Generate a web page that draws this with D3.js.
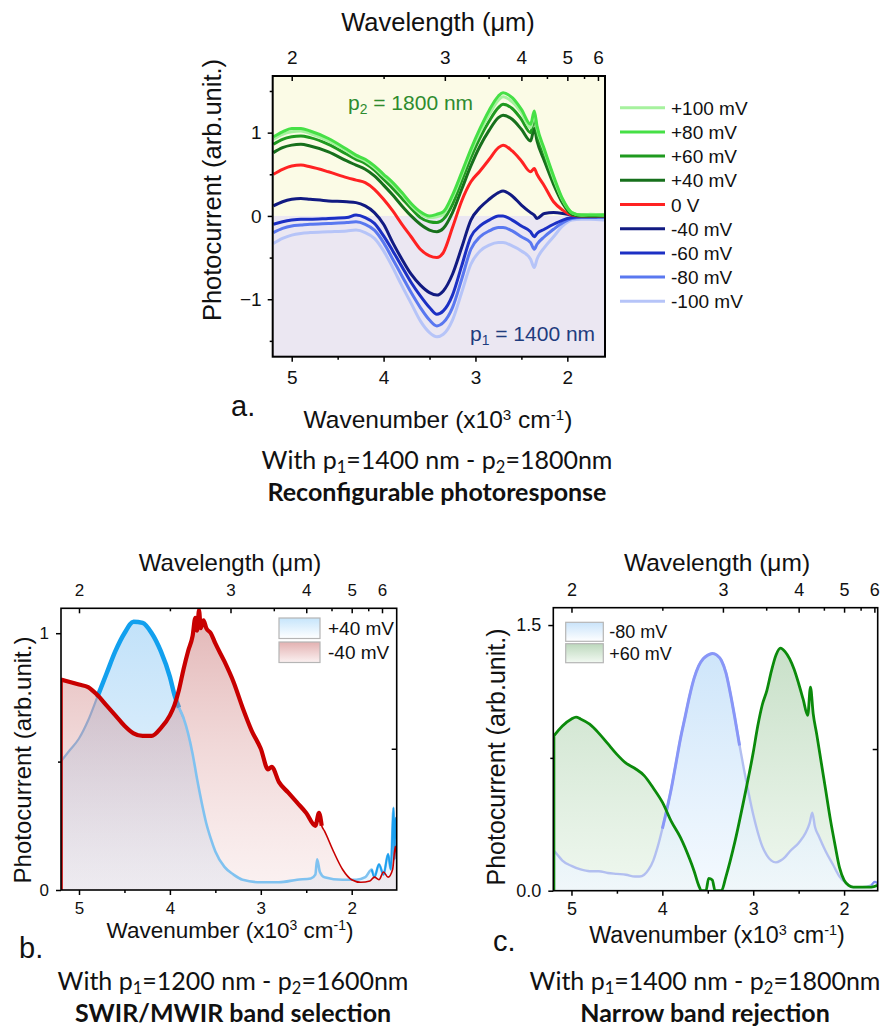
<!DOCTYPE html>
<html><head><meta charset="utf-8">
<script src="https://cdn.jsdelivr.net/npm/d3@7"></script>
<style>
body{margin:0;background:#fff}
text{font-family:"Liberation Sans",Arial,sans-serif;fill:#111}
.cap{font-family:Lato,"Open Sans",sans-serif}
</style>
</head><body>
<script>
// ---------------- DATA ----------------
// Panel a : wavenumber grid (x10^3 cm^-1) and photocurrent for each bias
const nuA = [5.2,5.1,5.0,4.9,4.8,4.6,4.4,4.3,4.2,4.1,4.0,3.9,3.8,3.7,3.6,3.5,3.42,3.35,3.25,3.15,3.05,2.95,2.85,2.75,2.7,2.6,2.5,2.4,2.36,2.33,2.25,2.15,2.05,1.95,1.85,1.75,1.6];
const aP100 = [0.92,0.98,1.01,1.02,0.99,0.90,0.78,0.71,0.66,0.58,0.48,0.38,0.26,0.13,0.03,-0.02,-0.01,0.02,0.22,0.49,0.77,1.01,1.22,1.39,1.43,1.37,1.24,1.06,1.22,1.05,0.78,0.46,0.19,0.04,0.01,0.02,0.01];
const aP80  = [0.95,1.01,1.05,1.05,1.02,0.93,0.80,0.73,0.68,0.60,0.50,0.40,0.28,0.15,0.05,0.0,0.02,0.05,0.25,0.52,0.80,1.05,1.27,1.44,1.48,1.42,1.28,1.10,1.26,1.08,0.80,0.48,0.20,0.04,0.01,0.01,0.01];
const aP60  = [0.86,0.92,0.95,0.96,0.94,0.86,0.74,0.68,0.63,0.55,0.44,0.33,0.21,0.09,-0.02,-0.07,-0.08,-0.04,0.14,0.42,0.70,0.94,1.14,1.30,1.34,1.29,1.16,1.00,1.18,1.00,0.74,0.44,0.18,0.03,0.01,0.01,0.01];
const aP40  = [0.76,0.82,0.85,0.86,0.84,0.77,0.66,0.61,0.56,0.48,0.37,0.25,0.12,0.0,-0.10,-0.17,-0.19,-0.15,0.04,0.32,0.60,0.84,1.03,1.18,1.21,1.16,1.04,0.90,1.05,0.90,0.66,0.38,0.15,0.02,0.0,0.0,0.0];
const a0    = [0.50,0.56,0.60,0.61,0.59,0.53,0.46,0.43,0.40,0.32,0.20,0.06,-0.10,-0.25,-0.40,-0.48,-0.50,-0.44,-0.14,0.18,0.41,0.54,0.68,0.82,0.85,0.78,0.66,0.53,0.57,0.50,0.36,0.17,0.07,0.01,0.0,0.0,0.0];
const aM40  = [0.12,0.17,0.20,0.21,0.20,0.18,0.17,0.16,0.12,0.04,-0.10,-0.32,-0.52,-0.70,-0.83,-0.92,-0.95,-0.90,-0.70,-0.38,-0.05,0.10,0.20,0.28,0.30,0.24,0.13,0.04,0.01,-0.03,0.03,0.04,0.03,0.01,0.0,0.0,0.0];
const aM60  = [-0.10,-0.07,-0.05,-0.04,-0.04,-0.03,-0.02,0.01,-0.02,-0.09,-0.24,-0.42,-0.61,-0.80,-0.96,-1.10,-1.18,-1.14,-0.95,-0.60,-0.25,-0.12,-0.05,0.0,0.0,-0.05,-0.12,-0.19,-0.25,-0.21,-0.16,-0.10,-0.05,-0.02,-0.01,-0.01,0.0];
const aM80  = [-0.20,-0.15,-0.12,-0.11,-0.10,-0.09,-0.08,-0.07,-0.10,-0.17,-0.32,-0.52,-0.72,-0.92,-1.10,-1.25,-1.32,-1.28,-1.10,-0.76,-0.40,-0.25,-0.18,-0.14,-0.14,-0.18,-0.25,-0.32,-0.40,-0.34,-0.25,-0.16,-0.08,-0.03,-0.02,-0.02,-0.02];
const aM100 = [-0.33,-0.27,-0.23,-0.21,-0.20,-0.19,-0.18,-0.17,-0.20,-0.27,-0.42,-0.62,-0.84,-1.05,-1.26,-1.40,-1.45,-1.42,-1.25,-0.92,-0.58,-0.42,-0.35,-0.32,-0.32,-0.36,-0.42,-0.52,-0.62,-0.52,-0.38,-0.25,-0.12,-0.05,-0.04,-0.04,-0.05];
const aLabels = ["+100 mV","+80 mV","+60 mV","+40 mV","0 V","-40 mV","-60 mV","-80 mV","-100 mV"];
const aSeries = [aP100,aP80,aP60,aP40,a0,aM40,aM60,aM80,aM100];
const aColors = ["#a6f29e","#46e046","#1f9a1f","#17701c","#ff2222","#111a82","#1c30c4","#5a78f0","#b6c4f8"];

// Panel b
const nuBp = [5.2,5.1,5.0,4.9,4.8,4.7,4.6,4.5,4.4,4.3,4.2,4.1,4.0,3.95,3.9,3.85,3.8,3.75,3.7,3.65,3.6,3.55,3.5,3.4,3.3,3.2,3.0,2.8,2.6,2.45,2.4,2.38,2.35,2.3,2.1,1.95,1.85,1.78,1.75,1.7,1.65,1.6,1.57,1.54,1.53,1.52,1.505];
const bP40 = [0.50,0.545,0.59,0.66,0.75,0.84,0.93,1.0,1.045,1.04,1.0,0.93,0.83,0.76,0.71,0.67,0.61,0.53,0.43,0.34,0.26,0.2,0.15,0.09,0.06,0.04,0.03,0.03,0.04,0.045,0.06,0.12,0.07,0.05,0.04,0.04,0.05,0.08,0.05,0.1,0.06,0.14,0.08,0.32,0.12,0.28,0.2];
const nuBm = [5.2,5.0,4.9,4.8,4.7,4.6,4.5,4.4,4.3,4.2,4.1,4.0,3.95,3.9,3.85,3.8,3.75,3.72,3.7,3.68,3.66,3.63,3.6,3.55,3.5,3.4,3.3,3.2,3.1,3.0,2.92,2.88,2.8,2.7,2.6,2.5,2.4,2.36,2.33,2.3,2.2,2.1,2.0,1.9,1.8,1.75,1.7,1.65,1.6,1.55,1.52,1.505];
const bM40 = [0.82,0.80,0.79,0.76,0.72,0.68,0.64,0.61,0.60,0.60,0.63,0.68,0.72,0.78,0.86,0.93,0.99,1.06,1.01,1.09,1.02,1.05,1.02,1.0,0.96,0.89,0.81,0.71,0.62,0.55,0.47,0.48,0.42,0.38,0.34,0.30,0.25,0.30,0.25,0.23,0.15,0.08,0.04,0.03,0.035,0.05,0.04,0.07,0.05,0.08,0.17,0.12];
const bLabels = ["+40 mV","-40 mV"];

// Panel c
const nuCg = [5.2,5.1,5.0,4.95,4.9,4.8,4.7,4.6,4.5,4.4,4.3,4.2,4.1,4.0,3.9,3.8,3.7,3.65,3.6,3.57,3.52,3.49,3.45,3.42,3.35,3.3,3.2,3.1,3.0,2.95,2.9,2.85,2.8,2.75,2.7,2.65,2.6,2.55,2.5,2.45,2.4,2.37,2.34,2.3,2.25,2.2,2.15,2.1,2.05,2.0,1.95,1.9,1.8,1.7,1.63];
const cP60 = [0.87,0.93,0.97,0.98,0.97,0.94,0.89,0.83,0.77,0.72,0.69,0.65,0.58,0.50,0.39,0.30,0.18,0.11,0.03,0.0,0.0,0.07,0.06,0.0,0.0,0.08,0.28,0.52,0.78,0.93,1.05,1.13,1.24,1.33,1.37,1.35,1.31,1.25,1.17,1.08,0.99,1.15,1.0,0.88,0.72,0.56,0.40,0.26,0.13,0.06,0.03,0.02,0.02,0.02,0.03];
const nuCb = [5.2,5.15,5.1,5.0,4.9,4.8,4.7,4.6,4.5,4.4,4.3,4.25,4.2,4.15,4.1,4.05,4.0,3.95,3.9,3.85,3.8,3.75,3.7,3.65,3.6,3.55,3.5,3.45,3.4,3.35,3.3,3.25,3.2,3.15,3.1,3.05,3.0,2.95,2.9,2.85,2.8,2.75,2.7,2.65,2.6,2.5,2.42,2.38,2.35,2.32,2.28,2.2,2.12,2.05,1.97,1.9,1.8,1.7,1.66,1.63];
const cM80 = [0.23,0.20,0.17,0.14,0.12,0.11,0.11,0.10,0.095,0.09,0.08,0.08,0.09,0.12,0.17,0.25,0.35,0.46,0.58,0.72,0.86,0.98,1.10,1.20,1.27,1.31,1.33,1.34,1.33,1.30,1.23,1.11,0.97,0.82,0.68,0.55,0.43,0.33,0.25,0.20,0.17,0.16,0.17,0.19,0.22,0.27,0.33,0.38,0.44,0.36,0.31,0.22,0.145,0.08,0.04,0.02,0.02,0.03,0.05,0.04];
const cLabels = ["-80 mV","+60 mV"];

// Ticks
const nuMajor = [5,4,3,2], nuMinor = [4.5,3.5,2.5];
const wlMajor = [2,3,4,5,6], wlMinor = [2.5,3.5,4.5,5.5];
const yMajA = [-1,0,1], yMinA = [-1.5,-0.5,0.5,1.5];
const yMajB = [0,1], yMinB = [0.5];
const yMajC = [0,1.5], yMinC = [0.75];

// ---------------- DRAW ----------------
const svg = d3.select("body").append("svg").attr("width",882).attr("height",1028);
const defs = svg.append("defs");
function zip(nu, v){ return nu.map((n,i)=>({n, v:v[i]})); }
function vgrad(id, stops, y1, y2){
  const g = defs.append("linearGradient").attr("id",id).attr("x1",0).attr("x2",0);
  if (y1!==undefined) g.attr("gradientUnits","userSpaceOnUse").attr("y1",y1).attr("y2",y2);
  else g.attr("y1",0).attr("y2",1);
  stops.forEach(s=>g.append("stop").attr("offset",s[0]).attr("stop-color",s[1]).attr("stop-opacity",s[2]));
}
function rich(t, parts){
  parts.forEach(p=>{
    const s = t.append("tspan").text(p[0]);
    if (p[1]==="sub") s.attr("baseline-shift","-4px").attr("font-size","66%");
    if (p[1]==="sup") s.attr("baseline-shift","super").attr("font-size","62%");
  });
  return t;
}

function panel(o){
  const x = d3.scaleLinear().domain(o.xd).range([o.l,o.r]);
  const y = d3.scaleLinear().domain(o.yd).range([o.b,o.t]);
  const g = svg.append("g");
  const cid = "clip"+o.id;
  defs.append("clipPath").attr("id",cid).append("rect").attr("x",o.l).attr("y",o.t).attr("width",o.r-o.l).attr("height",o.b-o.t);
  const plot = g.append("g").attr("clip-path",`url(#${cid})`);
  return {x,y,g,plot};
}
function axes(P, o){
  const {x,y,g} = P;
  const style = (sel, fs)=>{ sel.select(".domain").remove(); sel.selectAll(".tick line").attr("stroke","#000").attr("stroke-width",1.5); sel.selectAll("text").attr("font-size",fs).attr("fill","#111").style("font-family","'Liberation Sans',Arial,sans-serif"); };
  g.append("g").attr("transform",`translate(0,${o.b})`).call(d3.axisBottom(x).tickValues(nuMajor).tickFormat(d3.format("d")).tickSize(5).tickPadding(o.bpad)).call(s=>style(s,o.fs));
  g.append("g").attr("transform",`translate(0,${o.b})`).call(d3.axisBottom(x).tickValues(nuMinor).tickFormat("").tickSize(3)).call(s=>style(s,o.fs));
  g.append("g").attr("transform",`translate(0,${o.t})`).call(d3.axisTop(x).tickValues(wlMajor.map(l=>10/l)).tickFormat(d=>Math.round(10/d)).tickSize(-5).tickPadding(o.tpad)).call(s=>style(s,o.fs));
  g.append("g").attr("transform",`translate(0,${o.t})`).call(d3.axisTop(x).tickValues(wlMinor.map(l=>10/l)).tickFormat("").tickSize(-3)).call(s=>style(s,o.fs));
  g.append("g").attr("transform",`translate(${o.l},0)`).call(d3.axisLeft(y).tickValues(o.yMaj).tickFormat(o.yfmt).tickSize(5).tickPadding(o.lpad)).call(s=>style(s,o.fs));
  g.append("g").attr("transform",`translate(${o.l},0)`).call(d3.axisLeft(y).tickValues(o.yMin).tickFormat("").tickSize(3)).call(s=>style(s,o.fs));
  if (o.rTick) g.append("g").attr("transform",`translate(${o.r},0)`).call(d3.axisRight(y).tickValues(o.rTick).tickFormat("").tickSize(-5)).call(s=>style(s,o.fs));
  g.append("rect").attr("x",o.l).attr("y",o.t).attr("width",o.r-o.l).attr("height",o.b-o.t).attr("fill","none").attr("stroke","#000").attr("stroke-width",o.fw||1.6);
  rich(g.append("text").attr("x",o.cx).attr("y",o.wlY).attr("text-anchor","middle").attr("font-size",o.titleFs),[["Wavelength (μm)"]]);
  rich(g.append("text").attr("x",o.cx).attr("y",o.wnY).attr("text-anchor","middle").attr("font-size",o.wnFs),[["Wavenumber (x10"],["3","sup"],[" cm"],["-1","sup"],[")"]]);
  g.append("text").attr("transform",`translate(${o.ylX},${o.ylY}) rotate(-90)`).attr("text-anchor","middle").attr("font-size",o.ylFs).text("Photocurrent (arb.unit.)");
  g.append("text").attr("x",o.lblX).attr("y",o.lblY).attr("font-size",29).text(o.lbl);
  rich(g.append("text").attr("class","cap").attr("x",o.capX).attr("y",o.capY).attr("text-anchor","middle").attr("font-size",o.capFs),
    [["With p"],["1","sub"],["="+o.p1+" nm - p"],["2","sub"],["="+o.p2+"nm"]]);
  g.append("text").attr("class","cap").attr("x",o.capX).attr("y",o.capY+31.5).attr("text-anchor","middle").attr("font-size",o.capFs).attr("font-weight","bold").text(o.cap2);
}

// ---------- Panel a ----------
const oA = {id:"a", l:272.7, r:605, t:76, b:356.7, xd:[5.207,1.59], yd:[-1.69,1.68], fs:19, bpad:9, tpad:12, lpad:6,
  yMaj:yMajA, yMin:yMinA, yfmt:d3.format("d"), fw:2,
  cx:438, wlY:31, wnY:428, titleFs:25.5, wnFs:24.5, ylX:221, ylY:190, ylFs:25.5,
  lbl:"a.", lblX:231, lblY:416, capX:437, capY:469, capFs:25, p1:"1400", p2:"1800", cap2:"Reconfigurable photoresponse"};
const PA = panel(oA);
PA.plot.append("rect").attr("x",oA.l).attr("y",oA.t).attr("width",oA.r-oA.l).attr("height",PA.y(0)-oA.t).attr("fill","#fbfbe6");
PA.plot.append("rect").attr("x",oA.l).attr("y",PA.y(0)).attr("width",oA.r-oA.l).attr("height",oA.b-PA.y(0)).attr("fill","#ebe7f2");
const lineA = d3.line().x(d=>PA.x(d.n)).y(d=>PA.y(d.v)).curve(d3.curveMonotoneX);
const drawOrder = [8,7,6,5,4,3,2,0,1];
drawOrder.forEach(i=>{
  PA.plot.append("path").datum(zip(nuA,aSeries[i])).attr("d",lineA).attr("fill","none").attr("stroke",aColors[i]).attr("stroke-width",3).attr("stroke-linejoin","round");
});
axes(PA,oA);
rich(PA.g.append("text").attr("x",348).attr("y",110).attr("font-size",21).style("fill","#2e8b2e"),[["p"],["2","sub"],[" = 1800 nm"]]);
rich(PA.g.append("text").attr("x",470).attr("y",341).attr("font-size",21).style("fill","#1f3c7e"),[["p"],["1","sub"],[" = 1400 nm"]]);
const legA = svg.append("g");
aLabels.forEach((lab,i)=>{
  const yy = 107.7 + i*24.2;
  legA.append("line").attr("x1",620).attr("x2",665).attr("y1",yy).attr("y2",yy).attr("stroke",aColors[i]).attr("stroke-width",3);
  legA.append("text").attr("x",671).attr("y",yy+7).attr("font-size",19).text(lab);
});

// ---------- Panel b ----------
const oB = {id:"b", l:61, r:396.7, t:608.3, b:890, xd:[5.198,1.505], yd:[0,1.097], fs:17, bpad:7, tpad:12, lpad:7,
  yMaj:yMajB, yMin:yMinB, yfmt:d3.format("d"), rTick:[0.55],
  cx:230, wlY:571, wnY:938, titleFs:24, wnFs:22.5, ylX:31, ylY:760, ylFs:24,
  lbl:"b.", lblX:19, lblY:958, capX:233, capY:990, capFs:25, p1:"1200", p2:"1600", cap2:"SWIR/MWIR band selection"};
const PB = panel(oB);
vgrad("gBblue",[[0,"#b4dbf8",0.85],[1,"#e6f3fd",0.7]],oB.t,oB.b);
vgrad("gBred",[[0,"#c46a6a",0.5],[1,"#efc9c9",0.25]],oB.t,oB.b);
const lineB = d3.line().x(d=>PB.x(d.n)).y(d=>PB.y(d.v)).curve(d3.curveMonotoneX);
const areaB = d3.area().x(d=>PB.x(d.n)).y0(PB.y(0)).y1(d=>PB.y(d.v)).curve(d3.curveMonotoneX);
const bBlue = zip(nuBp,bP40), bRed = zip(nuBm,bM40);
PB.plot.append("path").datum(bBlue).attr("d",areaB).attr("fill","url(#gBblue)");
PB.plot.append("path").datum(bBlue.filter(d=>d.n>=3.85)).attr("d",lineB).attr("fill","none").attr("stroke","#6fb6ee").attr("stroke-width",2.2);
PB.plot.append("path").datum(bBlue.filter(d=>d.n<=4.8&&d.n>=3.9)).attr("d",lineB).attr("fill","none").attr("stroke","#12a0ee").attr("stroke-width",4.5);
PB.plot.append("path").datum(bRed).attr("d",areaB).attr("fill","url(#gBred)");
PB.plot.append("path").datum(bBlue.filter(d=>d.n<=3.9)).attr("d",lineB).attr("fill","none").attr("stroke","#80c2f0").attr("stroke-width",2.6);
PB.plot.append("path").datum(bBlue.filter(d=>d.n<=1.8)).attr("d",lineB).attr("fill","none").attr("stroke","#1aa0f0").attr("stroke-width",1.8);
PB.plot.append("path").datum(bRed).attr("d",lineB).attr("fill","none").attr("stroke","#c80000").attr("stroke-width",1.6);
PB.plot.append("path").datum(bRed.filter(d=>d.n>=2.33)).attr("d",lineB).attr("fill","none").attr("stroke","#c80000").attr("stroke-width",4.2);
PB.plot.append("line").attr("x1",PB.x(nuBm[0])+1).attr("x2",PB.x(nuBm[0])+1).attr("y1",PB.y(0)).attr("y2",PB.y(bM40[0])).attr("stroke","#c80000").attr("stroke-width",2);
axes(PB,oB);
vgrad("gLB1",[[0,"#c6e5fb",1],[1,"#ffffff",1]]);
vgrad("gLB2",[[0,"#e3b1b1",1],[1,"#fbf1f1",1]]);
[["gLB1",618],["gLB2",642]].forEach((d,i)=>{
  PB.g.append("rect").attr("x",279).attr("y",d[1]).attr("width",41).attr("height",20.5).attr("fill",`url(#${d[0]})`).attr("stroke","#b5b5b5").attr("stroke-width",1.2);
  PB.g.append("text").attr("x",328).attr("y",d[1]+17).attr("font-size",19).text(bLabels[i]);
});

// ---------- Panel c ----------
const oC = {id:"c", l:553.3, r:877.7, t:607.7, b:890.7, xd:[5.2,1.63], yd:[0,1.598], fs:18, bpad:7, tpad:12, lpad:7,
  yMaj:yMajC, yMin:yMinC, yfmt:d3.format(".1f"), rTick:[0.8],
  cx:717, wlY:571, wnY:943, titleFs:24.5, wnFs:23.3, ylX:505, ylY:757, ylFs:25,
  lbl:"c.", lblX:493, lblY:951, capX:705, capY:990, capFs:25, p1:"1400", p2:"1800", cap2:"Narrow band rejection"};
const PC = panel(oC);
vgrad("gCblue",[[0,"#bcdcf8",0.85],[1,"#f0f7fe",0.75]],oC.t,oC.b);
vgrad("gCgreen",[[0,"#8fbf8f",0.55],[1,"#dff0df",0.5]],oC.t,oC.b);
const lineC = d3.line().x(d=>PC.x(d.n)).y(d=>PC.y(d.v)).curve(d3.curveMonotoneX);
const areaC = d3.area().x(d=>PC.x(d.n)).y0(PC.y(0)).y1(d=>PC.y(d.v)).curve(d3.curveMonotoneX);
const cBlue = zip(nuCb,cM80), cGreen = zip(nuCg,cP60);
PC.plot.append("path").datum(cGreen).attr("d",areaC).attr("fill","url(#gCgreen)");
PC.plot.append("path").datum(cBlue).attr("d",areaC).attr("fill","url(#gCblue)");
PC.plot.append("path").datum(cBlue).attr("d",lineC).attr("fill","none").attr("stroke","#b2bff0").attr("stroke-width",2.4);
PC.plot.append("path").datum(cBlue.filter(d=>d.n<=4.0&&d.n>=3.15)).attr("d",lineC).attr("fill","none").attr("stroke","#8896f7").attr("stroke-width",3);
PC.plot.append("path").datum(cBlue.filter(d=>d.n<=1.75)).attr("d",lineC).attr("fill","none").attr("stroke","#7f8ff5").attr("stroke-width",2);
PC.plot.append("path").datum(cGreen).attr("d",lineC).attr("fill","none").attr("stroke","#0b8a0b").attr("stroke-width",2.8);
PC.plot.append("line").attr("x1",PC.x(nuCg[0])+1).attr("x2",PC.x(nuCg[0])+1).attr("y1",PC.y(0)).attr("y2",PC.y(cP60[0])).attr("stroke","#0b8a0b").attr("stroke-width",2);
axes(PC,oC);
vgrad("gLC1",[[0,"#c9e3fa",1],[1,"#ffffff",1]]);
vgrad("gLC2",[[0,"#bcd8bc",1],[1,"#f2f9f2",1]]);
[["gLC1",622.3],["gLC2",643.7]].forEach((d,i)=>{
  PC.g.append("rect").attr("x",565.7).attr("y",d[1]).attr("width",37.6).attr("height",19).attr("fill",`url(#${d[0]})`).attr("stroke","#b5b5b5").attr("stroke-width",1.2);
  PC.g.append("text").attr("x",609.3).attr("y",d[1]+16).attr("font-size",18).text(cLabels[i]);
});
</script>
</body></html>
